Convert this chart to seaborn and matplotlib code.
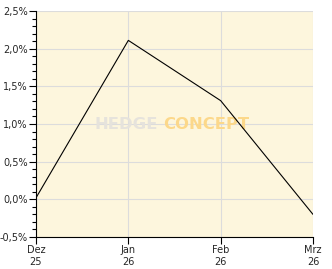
import matplotlib
matplotlib.use("Agg")
import matplotlib.pyplot as plt
import seaborn as sns
import pandas as pd
from matplotlib.ticker import MultipleLocator, FuncFormatter

months = ["Dez\n25", "Jan\n26", "Feb\n26", "Mrz\n26"]
values = [0.02, 2.11, 1.31, -0.2]

sns.set_theme(style="white")
plt.rcParams['font.family'] = ['DejaVu Sans']

df = pd.DataFrame({"x": range(len(months)), "y": values})

fig = plt.figure(figsize=(3.32, 2.69), dpi=100)
ax = fig.add_axes([36/332, 1-237/269, (313-36)/332, (237-11)/269])
ax.set_facecolor("#FDF6DD")

sns.lineplot(data=df, x="x", y="y", ax=ax, color="black", linewidth=0.8, zorder=3)

ax.set_xlim(0, len(months)-1)
ax.set_ylim(-0.5, 2.5)
ax.set_xticks(range(len(months)))
ax.set_xticklabels(months, fontsize=7, ha="center")
ax.yaxis.set_major_locator(MultipleLocator(0.5))
ax.yaxis.set_minor_locator(MultipleLocator(0.1))
ax.yaxis.set_major_formatter(FuncFormatter(lambda v, p: f"{v:.1f}%".replace(".", ",")))
ax.tick_params(axis="y", which="major", direction="out", length=5, width=0.8, labelsize=7, pad=1, color="black", left=True)
ax.tick_params(axis="y", which="minor", direction="out", length=3, width=0.8, color="black", left=True)
ax.tick_params(axis="x", which="major", direction="out", length=5, width=0.8, labelsize=7, pad=1, color="black", bottom=True)
ax.set_xlabel("")
ax.set_ylabel("")
ax.grid(True, which="major", color="#DCDCDC", linewidth=0.8)
ax.set_axisbelow(True)
for s in ["top", "right"]:
    ax.spines[s].set_visible(False)
for s in ["left", "bottom"]:
    ax.spines[s].set_color("black")
    ax.spines[s].set_linewidth(0.8)

ax.text(0.440, 0.498, "HEDGE", transform=ax.transAxes, ha="right", va="center",
        fontsize=11.8, fontweight="bold", color="#E6E3DC", zorder=1)
ax.text(0.458, 0.498, "CONCEPT", transform=ax.transAxes, ha="left", va="center",
        fontsize=11.8, fontweight="bold", color="#FCD88A", zorder=1)

fig.savefig("out.png", dpi=100)
